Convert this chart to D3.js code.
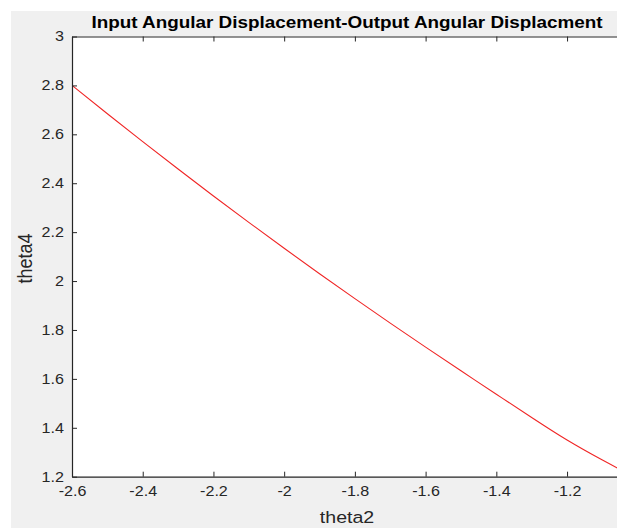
<!DOCTYPE html>
<html>
<head>
<meta charset="utf-8">
<script src="https://cdn.jsdelivr.net/npm/d3@7"></script>
<style>
  html, body { margin: 0; padding: 0; background: #ffffff; }
  svg { display: block; }
  text { font-family: "Liberation Sans", Arial, Helvetica, sans-serif; fill: #262626; }
</style>
</head>
<body>
<svg id="chart" width="617" height="528"></svg>
<script>
// Input crank angle (rad) against output rocker angle (rad)
const theta2 = [-2.6, -2.5, -2.4, -2.3, -2.2, -2.1, -2.0, -1.9, -1.8, -1.7, -1.6, -1.5, -1.4, -1.3, -1.2, -1.1, -1.05];
const theta4 = [2.800, 2.684, 2.570, 2.458, 2.348, 2.240, 2.134, 2.030, 1.928, 1.828, 1.730, 1.633, 1.537, 1.442, 1.350, 1.268, 1.230];

const xTicks = [-2.6, -2.4, -2.2, -2.0, -1.8, -1.6, -1.4, -1.2];
const yTicks = [1.2, 1.4, 1.6, 1.8, 2.0, 2.2, 2.4, 2.6, 2.8, 3.0];
const xLimits = [-2.6, -1.0446];
const yLimits = [1.2, 3.0];

const titleText = "Input Angular Displacement-Output Angular Displacment";
const xLabel = "theta2";
const yLabel = "theta4";

const svg = d3.select("#chart");
const W = 617, H = 528;
const stretch = 1.15;   // horizontal widening of the glyphs

// figure background
svg.append("rect").attr("x", 11).attr("y", 11).attr("width", W - 11).attr("height", H - 11).attr("fill", "#f0f0f0");

const m = { left: 72, top: 36.5, right: 622, bottom: 476.7 };

const x = d3.scaleLinear().domain(xLimits).range([m.left, m.right]);
const y = d3.scaleLinear().domain(yLimits).range([m.bottom, m.top]);

// axes area
svg.append("rect").attr("x", m.left).attr("y", m.top).attr("width", m.right - m.left).attr("height", m.bottom - m.top).attr("fill", "#ffffff");

const clip = svg.append("defs").append("clipPath").attr("id", "plotclip");
clip.append("rect").attr("x", m.left).attr("y", m.top).attr("width", m.right - m.left).attr("height", m.bottom - m.top);

// data line
const line = d3.line().x((d, i) => x(theta2[i])).y(d => y(d)).curve(d3.curveNatural);
svg.append("path")
  .datum(theta4)
  .attr("clip-path", "url(#plotclip)")
  .attr("fill", "none")
  .attr("stroke", "#f02626")
  .attr("stroke-width", 1.1)
  .attr("d", line);

const fmt = d => (Math.round(d * 10) / 10).toString();
const tickLen = 5;

// bottom axis: inward ticks, labels below
const xAxisB = d3.axisBottom(x).tickValues(xTicks).tickSizeInner(-tickLen).tickSizeOuter(0).tickPadding(9).tickFormat(fmt);
const gxb = svg.append("g").attr("transform", `translate(0,${m.bottom})`).call(xAxisB);
// top axis: inward ticks, no labels
const xAxisT = d3.axisTop(x).tickValues(xTicks).tickSizeInner(-tickLen).tickSizeOuter(0).tickFormat("");
const gxt = svg.append("g").attr("transform", `translate(0,${m.top})`).call(xAxisT);
// left axis
const yAxisL = d3.axisLeft(y).tickValues(yTicks).tickSizeInner(-tickLen).tickSizeOuter(0).tickPadding(7).tickFormat(fmt);
const gyl = svg.append("g").attr("transform", `translate(${m.left},0)`).call(yAxisL);
// right axis
const yAxisR = d3.axisRight(y).tickValues(yTicks).tickSizeInner(-tickLen).tickSizeOuter(0).tickFormat("");
const gyr = svg.append("g").attr("transform", `translate(${m.right},0)`).call(yAxisR);

[gxb, gxt, gyl, gyr].forEach(g => {
  g.select(".domain").attr("stroke", "#262626").attr("stroke-width", 1.2);
  g.selectAll(".tick line").attr("stroke", "#262626").attr("stroke-width", 1);
  g.selectAll(".tick text").attr("font-size", 14).attr("fill", "#262626")
    .attr("transform", `scale(${stretch},1)`)
    .style("font-family", '"Liberation Sans", Arial, sans-serif');
});

// title
svg.append("text")
  .attr("transform", `translate(${(m.left + m.right) / 2},28) scale(1.18,1)`)
  .attr("text-anchor", "middle")
  .attr("font-size", 16).attr("font-weight", "bold")
  .style("fill", "#000")
  .text(titleText);

// axis labels
svg.append("text")
  .attr("transform", `translate(${(m.left + m.right) / 2},523) scale(${stretch},1)`)
  .attr("text-anchor", "middle").attr("font-size", 17)
  .text(xLabel);

svg.append("text")
  .attr("transform", `translate(32,${(m.top + m.bottom) / 2 + 2}) rotate(-90) scale(1,${stretch})`)
  .attr("text-anchor", "middle").attr("font-size", 18)
  .text(yLabel);
</script>
</body>
</html>
